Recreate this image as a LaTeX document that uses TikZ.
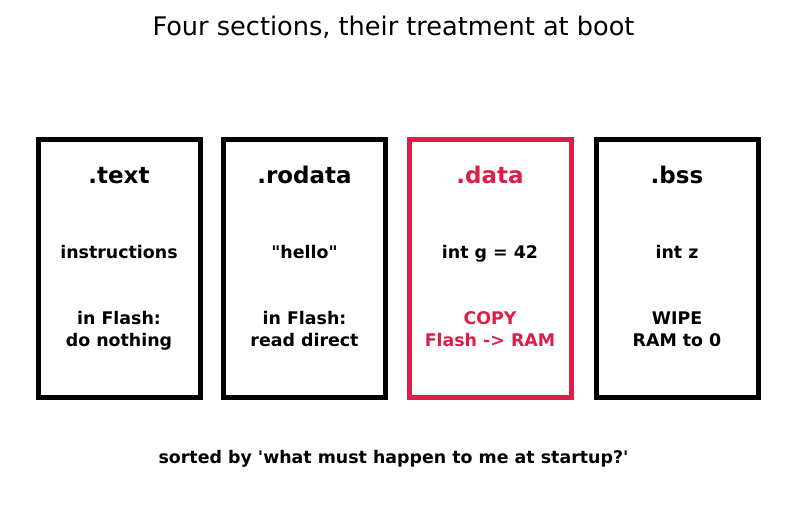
\documentclass[tikz,border=0pt]{standalone}
\usepackage{fontspec}
\setmainfont{DejaVu Sans}[Ligatures=TeXOff]
\definecolor{hot}{RGB}{220,30,72}
\tikzset{
  section/.style={draw=black,line width=5pt,minimum width=162pt,minimum height=258pt,inner sep=0pt},
  hotsection/.style={section,draw=hot},
  head/.style={anchor=base,font=\bfseries\fontsize{23}{26}\selectfont},
  body/.style={anchor=base,font=\bfseries\fontsize{17.4}{22}\selectfont,align=center}
}
\begin{document}
\begin{tikzpicture}[x=1pt,y=-1pt]
\useasboundingbox (0,0) rectangle (787,520);
\node[anchor=base] (title) at (393.5,35) {\fontsize{25.6}{30}\selectfont Four sections, their treatment at boot};

\node[section] (text) at (119,268.3) {};
\node[section] (rodata) at (304.5,268.3) {};
\node[hotsection] (data) at (490,268.3) {};
\node[section] (bss) at (677,268.3) {};

\node[head] (textname) at (119,183.5) {.text};
\node[body] (textvar) at (119,258) {instructions};
\node[body] (textboot) at (119,346) {in Flash:\\do nothing};

\node[head] (rodataname) at (304.5,183.5) {.rodata};
\node[body] (rodatavar) at (304.5,258) {"hello"};
\node[body] (rodataboot) at (304.5,346) {in Flash:\\read direct};

\node[head,text=hot] (dataname) at (490,183.5) {.data};
\node[body] (datavar) at (490,258) {int g = 42};
\node[body,text=hot] (databoot) at (490,346) {COPY\\Flash -> RAM};

\node[head] (bssname) at (677,183.5) {.bss};
\node[body] (bssvar) at (677,258) {int z};
\node[body] (bssboot) at (677,346) {WIPE\\RAM to 0};

\node[body] (footer) at (393.5,463) {sorted by 'what must happen to me at startup?'};
\end{tikzpicture}
\end{document}
